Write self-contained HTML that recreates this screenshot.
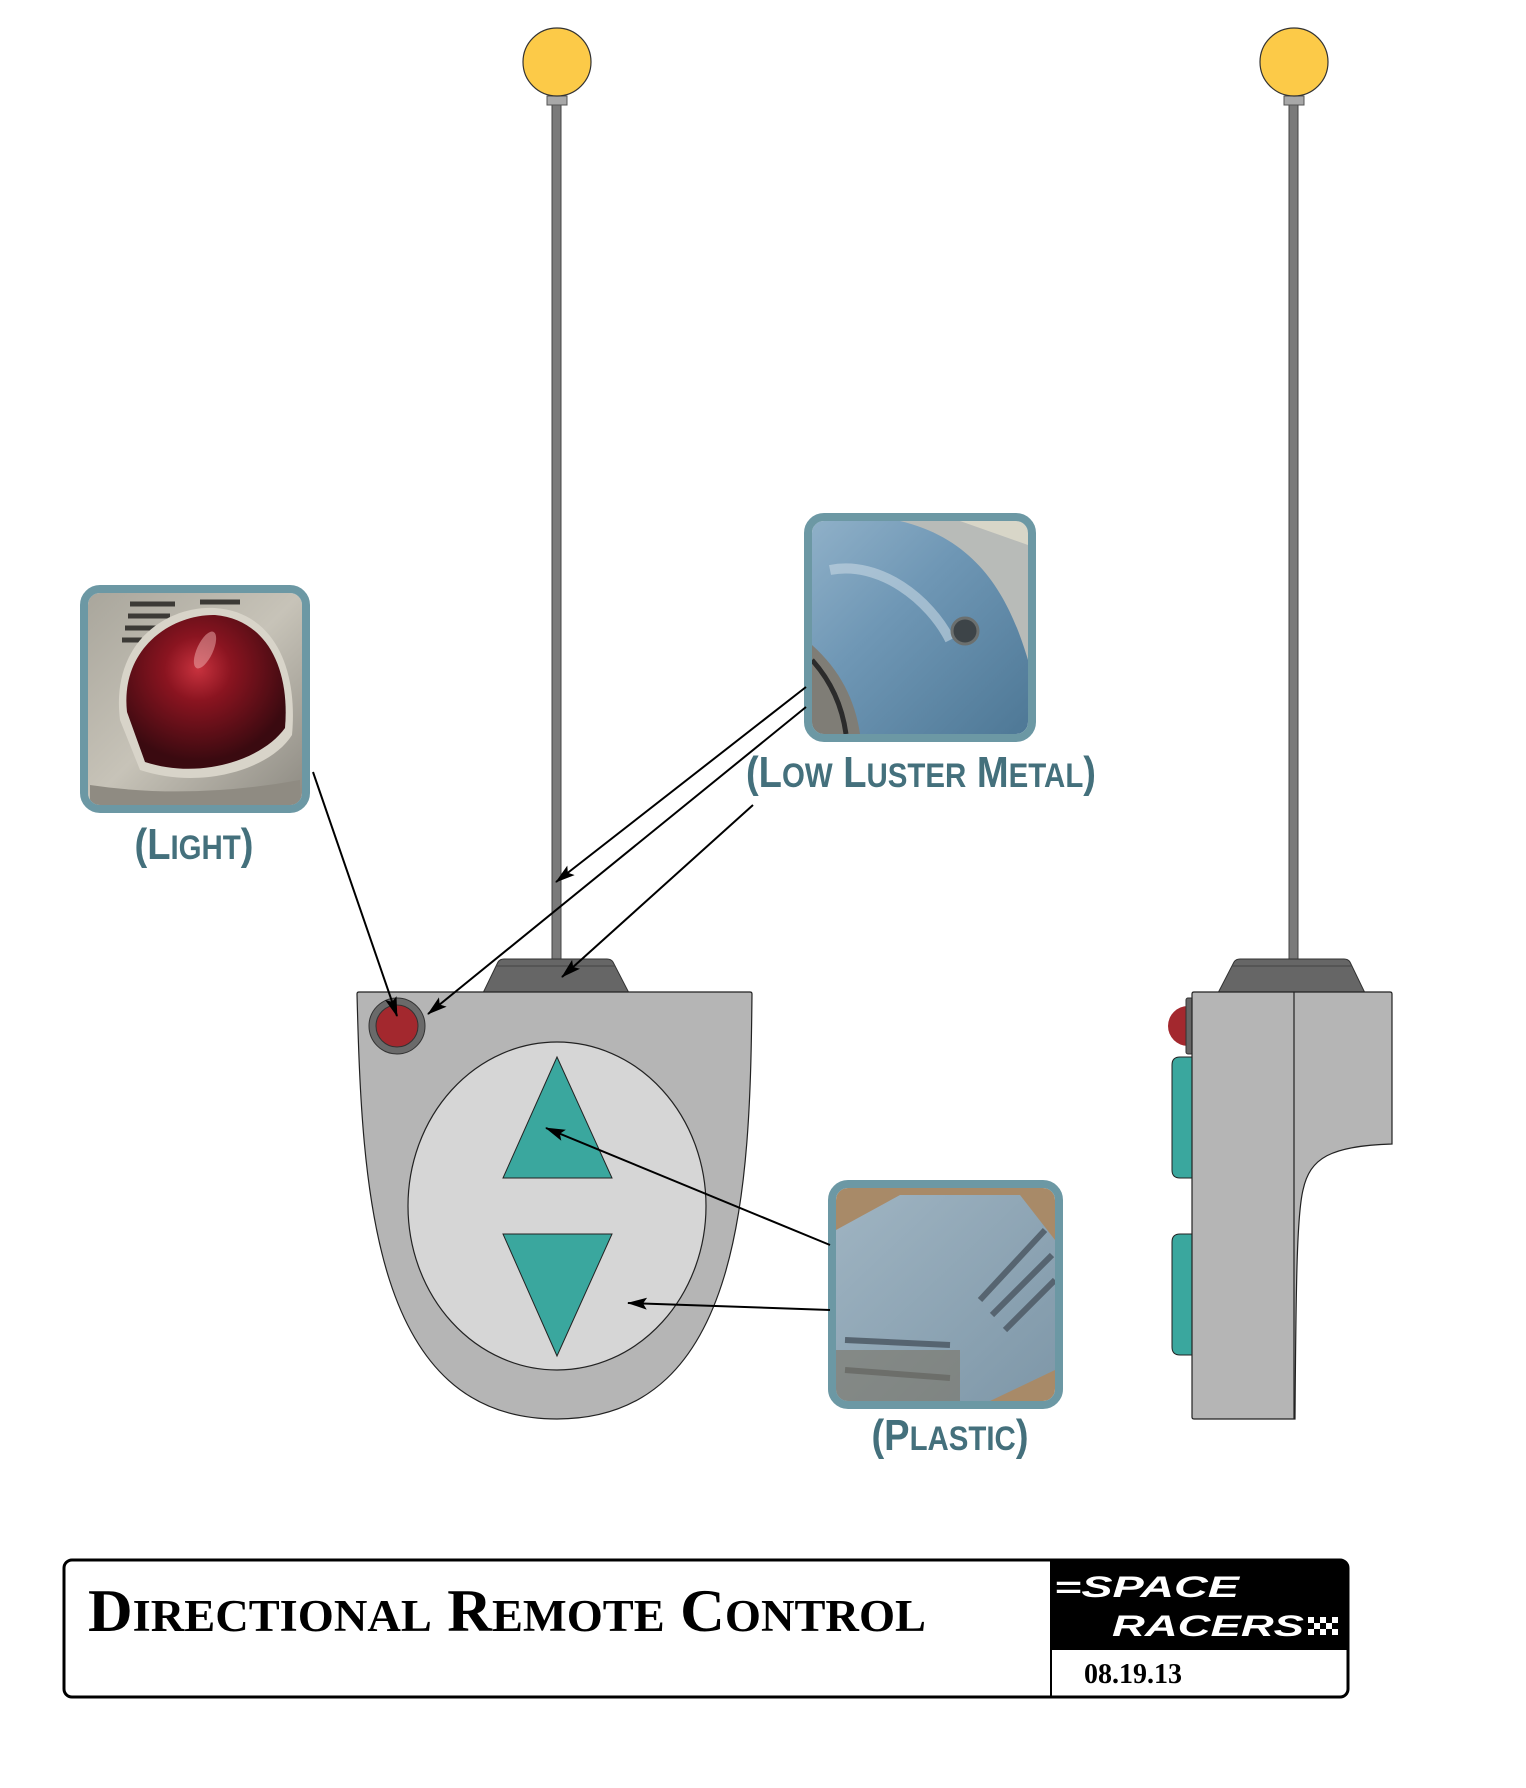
<!DOCTYPE html>
<html><head><meta charset="utf-8"><style>
html,body{margin:0;padding:0;background:#fff;}
svg{display:block;}
</style></head><body>
<svg width="1526" height="1788" viewBox="0 0 1526 1788" xmlns="http://www.w3.org/2000/svg">
<defs>
<marker id="ah2" markerWidth="20" markerHeight="12" refX="19" refY="6" orient="auto" markerUnits="userSpaceOnUse" viewBox="0 0 20 12">
<path d="M0,0 L20,6 L0,12 L4,6 Z" fill="#000"/>
</marker>
<radialGradient id="redg" cx="0.45" cy="0.35" r="0.6">
<stop offset="0" stop-color="#c8323e"/><stop offset="0.35" stop-color="#8a1420"/><stop offset="1" stop-color="#3a0a10"/>
</radialGradient>
<linearGradient id="metalg" x1="0" y1="0" x2="1" y2="1">
<stop offset="0" stop-color="#a9a69c"/><stop offset="0.5" stop-color="#c7c3b8"/><stop offset="1" stop-color="#8d8a82"/>
</linearGradient>
<linearGradient id="blueg" x1="0" y1="0" x2="1" y2="1">
<stop offset="0" stop-color="#8fb0c8"/><stop offset="0.4" stop-color="#6f97b5"/><stop offset="1" stop-color="#4e7896"/>
</linearGradient>
<linearGradient id="plg" x1="0" y1="0" x2="1" y2="1">
<stop offset="0" stop-color="#9fb4c2"/><stop offset="1" stop-color="#7e97a8"/>
</linearGradient>
<clipPath id="c1"><rect x="88" y="593" width="214" height="212" rx="12"/></clipPath>
<clipPath id="c2"><rect x="812" y="521" width="216" height="213" rx="12"/></clipPath>
<clipPath id="c3"><rect x="836" y="1188" width="219" height="213" rx="12"/></clipPath>
</defs>

<rect x="552" y="104" width="9" height="862" fill="#7a7a7a" stroke="#444" stroke-width="1"/>
<rect x="547" y="96" width="20" height="9" fill="#a8a8a8" stroke="#555" stroke-width="1"/>
<circle cx="557" cy="62" r="34" fill="#fcca48" stroke="#333" stroke-width="1.2"/>
<rect x="1289" y="104" width="9" height="862" fill="#7a7a7a" stroke="#444" stroke-width="1"/>
<rect x="1284" y="96" width="20" height="9" fill="#a8a8a8" stroke="#555" stroke-width="1"/>
<circle cx="1294" cy="62" r="34" fill="#fcca48" stroke="#333" stroke-width="1.2"/>

<path d="M483,993 L498,962 Q500,959 504,959 L607,959 Q611,959 613,962 L629,993 Z" fill="#666" stroke="#333" stroke-width="1"/>
<line x1="496" y1="966" x2="615" y2="966" stroke="#444" stroke-width="1"/>
<path d="M357,994 Q357,992 359,992 L750,992 Q752,992 752,994 C750,1180 745,1419 557,1419 C372,1419 362,1190 357,994 Z" fill="#b5b5b5" stroke="#222" stroke-width="1.2"/>
<ellipse cx="557" cy="1206" rx="149" ry="164" fill="#d6d6d6" stroke="#222" stroke-width="1.2"/>
<polygon points="557,1057 612,1178 503,1178" fill="#3aa79e" stroke="#222" stroke-width="1"/>
<polygon points="503,1234 612,1234 557,1356" fill="#3aa79e" stroke="#222" stroke-width="1"/>
<circle cx="397" cy="1026" r="28" fill="#6a6a6a" stroke="#333" stroke-width="1"/>
<circle cx="397" cy="1026" r="21" fill="#a3282e" stroke="#333" stroke-width="1"/>

<path d="M1218,993 L1234,962 Q1236,959 1240,959 L1344,959 Q1348,959 1350,962 L1365,993 Z" fill="#666" stroke="#333" stroke-width="1"/>
<line x1="1232" y1="966" x2="1352" y2="966" stroke="#444" stroke-width="1"/>
<circle cx="1188" cy="1026" r="20" fill="#a3282e"/>
<rect x="1186" y="998" width="7" height="56" rx="2" fill="#666" stroke="#333" stroke-width="1"/>
<path d="M1193,1057 L1180,1057 Q1172,1057 1172,1065 L1172,1170 Q1172,1178 1180,1178 L1193,1178 Z" fill="#3aa79e" stroke="#222" stroke-width="1"/>
<path d="M1193,1234 L1180,1234 Q1172,1234 1172,1242 L1172,1347 Q1172,1355 1180,1355 L1193,1355 Z" fill="#3aa79e" stroke="#222" stroke-width="1"/>
<path d="M1194,992 L1390,992 Q1392,992 1392,994 L1392,1144 C1330,1146 1310,1158 1303,1190 C1297,1215 1296,1280 1295,1419 L1194,1419 Q1192,1419 1192,1417 L1192,994 Q1192,992 1194,992 Z" fill="#b5b5b5" stroke="#222" stroke-width="1.2"/>
<line x1="1294" y1="992" x2="1294" y2="1419" stroke="#222" stroke-width="1.2"/>

<g clip-path="url(#c1)">
<rect x="88" y="593" width="214" height="212" fill="url(#metalg)"/>
<g stroke="#3c3a36" stroke-width="5">
<line x1="130" y1="604" x2="175" y2="604"/><line x1="128" y1="616" x2="170" y2="616"/><line x1="125" y1="628" x2="165" y2="628"/><line x1="122" y1="640" x2="160" y2="640"/>
<line x1="200" y1="602" x2="240" y2="602"/>
</g>
<path d="M120,720 C110,640 170,605 215,608 C275,612 298,670 292,735 C270,770 200,790 140,770 Z" fill="#d8d4c9"/>
<path d="M127,712 C120,648 172,614 215,615 C268,620 290,670 285,728 C262,760 200,780 145,762 Z" fill="url(#redg)"/>
<ellipse cx="205" cy="650" rx="8" ry="20" fill="#f0b0b0" opacity="0.5" transform="rotate(25 205 650)"/>
<path d="M90,785 Q190,800 300,780 L300,805 L90,805 Z" fill="#8f8b82"/>
</g>
<rect x="84" y="589" width="222" height="220" rx="16" fill="none" stroke="#6c98a4" stroke-width="8"/>
<text x="194" y="859" text-anchor="middle" font-family="'Liberation Sans Narrow','Liberation Sans',sans-serif" font-weight="bold" font-size="44" fill="#44707c" textLength="119" lengthAdjust="spacingAndGlyphs">(L<tspan font-size="34">IGHT</tspan>)</text>

<g clip-path="url(#c2)">
<rect x="812" y="521" width="216" height="213" fill="url(#blueg)"/>
<path d="M900,521 C980,540 1010,600 1028,660 L1028,521 Z" fill="#b8bbb8"/>
<path d="M960,521 L1028,521 L1028,545 Z" fill="#d8d6c8"/>
<path d="M830,570 C880,560 930,600 950,640" stroke="#c7d7e2" stroke-width="10" fill="none" opacity="0.6"/>
<circle cx="965" cy="631" r="13" fill="#3d4448" stroke="#6b6f6e" stroke-width="3"/>
<path d="M812,645 C840,670 855,700 860,734 L812,734 Z" fill="#7f7d76"/>
<path d="M812,660 C830,680 842,705 846,734" stroke="#2b2b2b" stroke-width="5" fill="none"/>
</g>
<rect x="808" y="517" width="224" height="221" rx="16" fill="none" stroke="#6c98a4" stroke-width="8"/>
<text x="921" y="787" text-anchor="middle" font-family="'Liberation Sans Narrow','Liberation Sans',sans-serif" font-weight="bold" font-size="44" fill="#44707c" textLength="350" lengthAdjust="spacingAndGlyphs">(L<tspan font-size="34">OW</tspan> L<tspan font-size="34">USTER</tspan> M<tspan font-size="34">ETAL</tspan>)</text>

<g clip-path="url(#c3)">
<rect x="836" y="1188" width="219" height="213" fill="#a88a68"/>
<path d="M836,1230 L900,1195 L1020,1195 L1055,1240 L1055,1370 L990,1401 L836,1401 Z" fill="url(#plg)"/>
<g stroke="#566470" stroke-width="6">
<line x1="980" y1="1300" x2="1045" y2="1230"/><line x1="992" y1="1315" x2="1052" y2="1255"/><line x1="1005" y1="1330" x2="1055" y2="1280"/>
<line x1="845" y1="1340" x2="950" y2="1345"/><line x1="845" y1="1370" x2="950" y2="1378"/>
</g>
<path d="M836,1350 L960,1350 L960,1401 L836,1401 Z" fill="#7c7566" opacity="0.6"/>
</g>
<rect x="832" y="1184" width="227" height="221" rx="16" fill="none" stroke="#6c98a4" stroke-width="8"/>
<text x="950" y="1450" text-anchor="middle" font-family="'Liberation Sans Narrow','Liberation Sans',sans-serif" font-weight="bold" font-size="44" fill="#44707c" textLength="157" lengthAdjust="spacingAndGlyphs">(P<tspan font-size="34">LASTIC</tspan>)</text>

<g stroke="#000" stroke-width="2" fill="none">
<line x1="313" y1="772" x2="397" y2="1016" marker-end="url(#ah2)"/>
<line x1="806" y1="687" x2="556" y2="882" marker-end="url(#ah2)"/>
<line x1="806" y1="707" x2="428" y2="1014" marker-end="url(#ah2)"/>
<line x1="753" y1="805" x2="562" y2="977" marker-end="url(#ah2)"/>
<line x1="830" y1="1245" x2="546" y2="1128" marker-end="url(#ah2)"/>
<line x1="830" y1="1310" x2="628" y2="1303" marker-end="url(#ah2)"/>
</g>

<rect x="64" y="1560" width="1284" height="137" rx="8" fill="#fff" stroke="#000" stroke-width="3"/>
<path d="M1051,1560 L1340,1560 Q1348,1560 1348,1568 L1348,1650 L1051,1650 Z" fill="#000"/>
<line x1="1051" y1="1560" x2="1051" y2="1697" stroke="#000" stroke-width="2"/>
<text x="88" y="1631" font-family="'Liberation Serif',serif" font-weight="bold" font-size="60" fill="#000" textLength="838" lengthAdjust="spacingAndGlyphs">D<tspan font-size="45">IRECTIONAL</tspan> R<tspan font-size="45">EMOTE</tspan> C<tspan font-size="45">ONTROL</tspan></text>
<text x="1054" y="1597" font-family="'Liberation Sans',sans-serif" font-style="italic" font-weight="bold" font-size="30" fill="#fff" textLength="185" lengthAdjust="spacingAndGlyphs">=SPACE</text>
<text x="1112" y="1636" font-family="'Liberation Sans',sans-serif" font-style="italic" font-weight="bold" font-size="30" fill="#fff" textLength="192" lengthAdjust="spacingAndGlyphs">RACERS</text>
<g fill="#fff">
<rect x="1308" y="1617" width="6" height="6"/><rect x="1320" y="1617" width="6" height="6"/><rect x="1314" y="1623" width="6" height="6"/><rect x="1326" y="1623" width="6" height="6"/><rect x="1308" y="1629" width="6" height="6"/><rect x="1320" y="1629" width="6" height="6"/><rect x="1332" y="1629" width="6" height="6"/><rect x="1332" y="1617" width="6" height="6"/>
</g>
<text x="1084" y="1683" font-family="'Liberation Serif',serif" font-weight="bold" font-size="28" fill="#000">08.19.13</text>
</svg>
</body></html>
